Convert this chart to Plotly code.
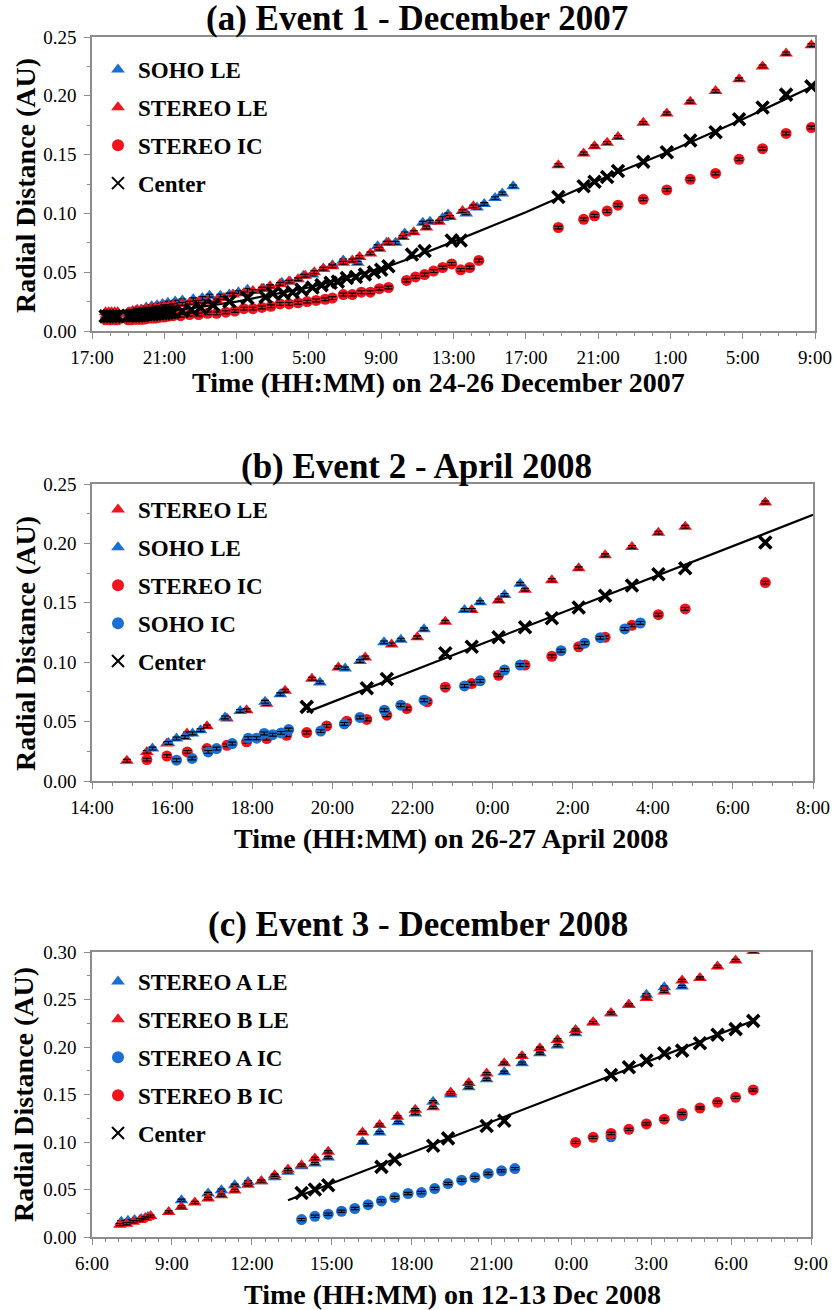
import plotly.graph_objects as go

W, H = 835, 1310
FONT = "Liberation Serif"
BLUE = "#1a6fd0"
RED = "#f2131c"

# ---------------- Event 1 (hours since 17:00, 24 Dec 2007) ----------------
a_soho_le_t = [0.8, 1.1, 1.4, 2.1, 2.4, 2.7, 3.0, 3.3, 3.6, 3.9, 4.2, 4.6, 5.0, 5.6, 6.1, 6.5, 7.1, 7.6,
               8.1, 8.6, 9.5, 10.5, 10.95, 11.7, 12.2, 12.8, 13.3, 13.9, 14.7, 15.8, 16.3, 16.8, 17.3,
               18.3, 18.7, 19.4, 19.7, 20.7, 21.3, 21.7, 22.3, 22.7, 23.3]
a_soho_le_r = [0.014, 0.014, 0.015, 0.016, 0.017, 0.018, 0.020, 0.021, 0.022, 0.023, 0.024, 0.025, 0.026,
               0.027, 0.028, 0.030, 0.030, 0.031, 0.033, 0.035, 0.036, 0.041, 0.042, 0.047, 0.048, 0.053,
               0.056, 0.060, 0.058, 0.072, 0.075, 0.075, 0.083, 0.092, 0.093, 0.096, 0.099, 0.100, 0.105,
               0.108, 0.113, 0.117, 0.123]

a_stereo_le_t = [0.75, 0.92, 1.08, 1.25, 1.42, 2.0, 2.25, 2.5, 2.75, 3.0, 3.25, 3.5, 3.75, 4.0, 4.25, 4.5,
                 5.0, 5.4, 5.9, 6.4, 6.9, 7.3, 7.8, 8.4, 8.9, 9.4, 9.85, 10.4, 10.9, 11.4, 11.8, 12.3,
                 12.8, 13.3, 13.9, 14.4, 14.8, 15.4, 15.9, 16.4, 17.2, 17.8, 18.5, 19.2, 19.8, 20.5, 21.1,
                 25.8, 27.2, 27.8, 28.5, 29.1, 30.5, 31.8, 33.1, 34.5, 35.8, 37.1, 38.4, 39.8]
a_stereo_le_r = [0.016, 0.016, 0.016, 0.016, 0.016, 0.016, 0.017, 0.018, 0.018, 0.019, 0.019, 0.020, 0.020,
                 0.021, 0.021, 0.022, 0.023, 0.024, 0.025, 0.025, 0.026, 0.028, 0.031, 0.032, 0.034, 0.036,
                 0.038, 0.040, 0.042, 0.044, 0.047, 0.050, 0.053, 0.055, 0.058, 0.060, 0.063, 0.066, 0.070,
                 0.075, 0.080, 0.084, 0.088, 0.093, 0.097, 0.102, 0.106,
                 0.141, 0.151, 0.157, 0.160, 0.165, 0.177, 0.185, 0.195, 0.204, 0.214, 0.225, 0.236, 0.243]

a_stereo_ic_t = [0.75, 0.92, 1.08, 1.25, 1.42, 2.0, 2.17, 2.33, 2.5, 2.67, 2.83, 3.0, 3.17, 3.33, 3.5, 3.67,
                 3.83, 4.0, 4.17, 4.33, 4.5, 4.9, 5.4, 5.9, 6.4, 6.9, 7.4, 7.9, 8.4, 8.9, 9.4, 9.9, 10.4,
                 10.9, 11.4, 11.9, 12.4, 12.9, 13.3, 13.9, 14.4, 14.9, 15.4, 15.9, 16.4, 17.4, 17.9, 18.4,
                 18.9, 19.4, 19.9, 20.4, 20.9, 21.4,
                 25.8, 27.2, 27.8, 28.5, 29.1, 30.5, 31.8, 33.1, 34.5, 35.8, 37.1, 38.4, 39.8]
a_stereo_ic_r = [0.0095, 0.0095, 0.0095, 0.0095, 0.0095, 0.0095, 0.0095, 0.010, 0.010, 0.010, 0.010, 0.0105,
                 0.011, 0.011, 0.011, 0.0115, 0.012, 0.012, 0.0125, 0.013, 0.013, 0.013, 0.014, 0.014, 0.015,
                 0.015, 0.016, 0.017, 0.019, 0.019, 0.020, 0.021, 0.023, 0.023, 0.024, 0.025, 0.026, 0.027,
                 0.028, 0.031, 0.031, 0.033, 0.033, 0.036, 0.037, 0.043, 0.046, 0.048, 0.051, 0.054, 0.057,
                 0.052, 0.054, 0.060,
                 0.088, 0.095, 0.098, 0.102, 0.107, 0.112, 0.120, 0.129, 0.134, 0.146, 0.155, 0.168, 0.173]

a_center_t = [0.75, 0.92, 1.08, 1.25, 1.42, 2.0, 2.17, 2.33, 2.5, 2.67, 2.83, 3.0, 3.17, 3.33, 3.5, 3.67,
              3.83, 4.0, 4.17, 4.33, 4.5, 5.0, 5.5, 6.0, 6.7, 7.6, 8.6, 9.6, 10.0, 10.6, 11.1, 11.6, 12.2,
              12.7, 13.2, 13.6, 14.1, 14.6, 15.1, 15.6, 16.0, 16.4, 17.7, 18.4, 19.9, 20.4,
              25.8, 27.2, 27.8, 28.5, 29.1, 30.5, 31.8, 33.1, 34.5, 35.8, 37.1, 38.4, 39.8]
a_center_r = [0.0125, 0.0125, 0.0125, 0.0125, 0.0125, 0.013, 0.013, 0.013, 0.013, 0.0135, 0.0135, 0.014,
              0.014, 0.014, 0.0145, 0.015, 0.015, 0.015, 0.0155, 0.016, 0.016, 0.017, 0.018, 0.020, 0.022,
              0.025, 0.028, 0.029, 0.032, 0.032, 0.033, 0.035, 0.037, 0.039, 0.041, 0.042, 0.045, 0.046,
              0.048, 0.050, 0.052, 0.055, 0.065, 0.068, 0.077, 0.077,
              0.114, 0.123, 0.127, 0.131, 0.136, 0.144, 0.152, 0.162, 0.169, 0.180, 0.190, 0.201, 0.208]

a_fit_t = [0.75, 4.0, 8.0, 12.0, 14.0, 16.4, 18.0, 20.0, 24.0, 28.0, 32.0, 36.0, 40.0]
a_fit_r = [0.012, 0.016, 0.025, 0.037, 0.045, 0.055, 0.064, 0.076, 0.101, 0.128, 0.153, 0.180, 0.209]

a_ticks = [0, 4, 8, 12, 16, 20, 24, 28, 32, 36, 40]
a_labels = ["17:00", "21:00", "1:00", "5:00", "9:00", "13:00", "17:00", "21:00", "1:00", "5:00", "9:00"]

# ---------------- Event 2 (hours since 14:00, 26 Apr 2008) ----------------
b_stereo_le_t = [0.87, 1.37, 1.87, 2.37, 2.87, 3.37, 3.86, 4.36, 4.82, 5.49, 6.15, 6.82, 7.48, 8.12, 8.82,
                 9.48, 10.15, 10.81, 11.48, 12.15, 12.81, 13.48, 14.14, 14.81, 16.81]
b_stereo_le_r = [0.017, 0.0245, 0.0315, 0.040, 0.046, 0.0526, 0.0596, 0.065, 0.076, 0.086, 0.0956, 0.104,
                 0.115, 0.121, 0.134, 0.144, 0.152, 0.161, 0.169, 0.179, 0.190, 0.197, 0.209, 0.214, 0.2345]

b_soho_le_t = [1.51, 1.91, 2.11, 2.32, 2.51, 2.71, 3.32, 3.70, 4.32, 4.70, 5.69, 6.32, 6.69, 7.29, 7.71,
               8.29, 9.30, 9.69, 10.30, 10.69]
b_soho_le_r = [0.0273, 0.032, 0.0357, 0.037, 0.040, 0.0428, 0.0535, 0.059, 0.0667, 0.073, 0.083, 0.0948,
               0.101, 0.1167, 0.119, 0.1277, 0.144, 0.1505, 0.1566, 0.166]

b_stereo_ic_t = [1.37, 1.87, 2.38, 2.87, 3.37, 3.86, 4.36, 4.86, 5.36, 5.86, 6.36, 6.86, 7.36, 7.86, 8.37,
                 8.82, 9.48, 10.15, 10.81, 11.48, 12.15, 12.81, 13.48, 14.14, 14.81, 16.81]
b_stereo_ic_r = [0.018, 0.021, 0.0245, 0.0273, 0.030, 0.033, 0.0357, 0.0385, 0.0408, 0.0464, 0.0503, 0.0518,
                 0.0554, 0.061, 0.0667, 0.079, 0.082, 0.089, 0.0976, 0.105, 0.113, 0.121, 0.131, 0.140,
                 0.1448, 0.167]

b_soho_ic_t = [2.11, 2.50, 2.90, 3.11, 3.50, 3.90, 4.11, 4.30, 4.51, 4.72, 4.91, 5.71, 6.30, 6.69, 7.30,
               7.71, 8.29, 9.30, 9.69, 10.30, 10.69, 11.71, 12.30, 12.69, 13.30, 13.69]
b_soho_ic_r = [0.0175, 0.019, 0.0245, 0.0273, 0.0315, 0.036, 0.036, 0.040, 0.039, 0.0405, 0.0433, 0.042,
               0.048, 0.0535, 0.0596, 0.0638, 0.068, 0.080, 0.0843, 0.0934, 0.0976, 0.1097, 0.116, 0.1206,
               0.128, 0.133]

b_center_t = [5.36, 6.86, 7.36, 8.82, 9.48, 10.15, 10.81, 11.48, 12.15, 12.81, 13.48, 14.14, 14.81, 16.81]
b_center_r = [0.0624, 0.078, 0.0858, 0.1075, 0.113, 0.121, 0.1294, 0.137, 0.146, 0.156, 0.1645, 0.174,
              0.179, 0.2007]

b_fit_t = [5.36, 18.0]
b_fit_r = [0.058, 0.224]

b_ticks = [0, 2, 4, 6, 8, 10, 12, 14, 16, 18]
b_labels = ["14:00", "16:00", "18:00", "20:00", "22:00", "0:00", "2:00", "4:00", "6:00", "8:00"]

# ---------------- Event 3 (hours since 6:00, 12 Dec 2008) ----------------
c_a_le_t = [1.10, 1.35, 1.60, 1.85, 2.10, 3.36, 4.36, 4.86, 5.36, 5.86, 6.36, 6.86, 7.36, 7.87, 8.37, 8.87,
            10.16, 10.80, 11.50, 12.14, 12.81, 13.47, 14.15, 14.82, 15.48, 16.15, 16.82, 17.48, 18.16,
            18.82, 19.49, 20.16, 20.82, 21.49, 22.16]
c_a_le_r = [0.016, 0.017, 0.018, 0.019, 0.021, 0.0387, 0.0458, 0.0493, 0.0545, 0.058, 0.0588, 0.063, 0.0686,
            0.0746, 0.0774, 0.0837, 0.100, 0.110, 0.1207, 0.130, 0.1424, 0.150, 0.1576, 0.166, 0.1734,
            0.183, 0.1934, 0.2015, 0.2145, 0.226, 0.2356, 0.2444, 0.255, 0.263, 0.2637]

c_b_le_t = [1.05, 1.30, 1.55, 1.80, 2.00, 2.20, 2.88, 3.36, 3.86, 4.36, 4.86, 5.36, 5.86, 6.36, 6.86, 7.36,
            7.87, 8.37, 8.87, 10.16, 10.80, 11.47, 12.14, 12.81, 13.47, 14.15, 14.82, 15.48, 16.15, 16.82,
            17.48, 18.16, 18.82, 19.49, 20.16, 20.82, 21.49, 22.16, 22.83, 23.49, 24.17, 24.83]
c_b_le_r = [0.013, 0.014, 0.016, 0.018, 0.020, 0.022, 0.0264, 0.0317, 0.0363, 0.0405, 0.044, 0.049, 0.055,
            0.0588, 0.065, 0.071, 0.0756, 0.0827, 0.0897, 0.110, 0.118, 0.1266, 0.134, 0.1365, 0.152,
            0.162, 0.172, 0.183, 0.1906, 0.1987, 0.2075, 0.218, 0.2257, 0.2356, 0.2444, 0.2515, 0.2585,
            0.270, 0.2726, 0.2848, 0.291, 0.301]

c_a_ic_t = [7.87, 8.37, 8.87, 9.37, 9.87, 10.37, 10.87, 11.37, 11.87, 12.37, 12.87, 13.37, 13.88, 14.38,
            14.88, 15.38, 15.88, 19.49, 22.16]
c_a_ic_r = [0.0183, 0.0218, 0.024, 0.0271, 0.030, 0.034, 0.038, 0.0416, 0.0458, 0.0468, 0.051, 0.0563,
            0.0598, 0.0627, 0.0669, 0.0697, 0.072, 0.1055, 0.1277]

c_b_ic_t = [18.16, 18.82, 19.49, 20.16, 20.82, 21.49, 22.16, 22.83, 23.49, 24.17, 24.83]
c_b_ic_r = [0.0996, 0.1049, 0.109, 0.1133, 0.119, 0.124, 0.130, 0.1358, 0.1418, 0.147, 0.1548]

c_center_t = [7.87, 8.37, 8.87, 10.87, 11.37, 12.81, 13.37, 14.82, 15.48, 19.49, 20.16, 20.82, 21.49,
              22.16, 22.83, 23.49, 24.17, 24.83]
c_center_r = [0.0464, 0.050, 0.0545, 0.0738, 0.0816, 0.096, 0.1038, 0.1168, 0.1224, 0.1706, 0.1787,
              0.1857, 0.1935, 0.1962, 0.204, 0.2128, 0.2188, 0.2275]

c_fit_t = [7.36, 24.83]
c_fit_r = [0.0387, 0.2275]

c_ticks = [0, 3, 6, 9, 12, 15, 18, 21, 24, 27]
c_labels = ["6:00", "9:00", "12:00", "15:00", "18:00", "21:00", "0:00", "3:00", "6:00", "9:00"]

# ---------------- figure ----------------
fig = go.Figure()

def px_x(v):
    return v / W

def px_y(v):
    return 1 - v / H

def pts(t, r, name, color, symbol, xa, ya, legend, rank, err=True):
    mk = dict(color=color, size=12 if symbol == "triangle-up" else 11, symbol=symbol)
    if symbol == "x-thin":
        mk = dict(color="black", size=12, symbol="x-thin", line=dict(color="black", width=3.6))
    fig.add_trace(go.Scatter(
        x=t, y=r, mode="markers", name=name, marker=mk, xaxis=xa, yaxis=ya, legend=legend,
        legendgroup=name + legend, legendrank=rank))
    if err:
        # small black error bars drawn on top of the markers
        fig.add_trace(go.Scatter(
            x=t, y=r, mode="markers", marker=dict(size=1, color="rgba(0,0,0,0)"),
            error_y=dict(type="constant", value=0.0012, color="black", thickness=1.1, width=4),
            xaxis=xa, yaxis=ya, showlegend=False, hoverinfo="skip", legend=legend))

def fit(t, r, xa, ya):
    fig.add_trace(go.Scatter(x=t, y=r, mode="lines", line=dict(color="black", width=2.2),
                             showlegend=False, xaxis=xa, yaxis=ya, hoverinfo="skip"))

# panel a
fit(a_fit_t, a_fit_r, "x", "y")
pts(a_soho_le_t, a_soho_le_r, "SOHO LE", BLUE, "triangle-up", "x", "y", "legend", 1)
pts(a_stereo_le_t, a_stereo_le_r, "STEREO LE", RED, "triangle-up", "x", "y", "legend", 2)
pts(a_stereo_ic_t, a_stereo_ic_r, "STEREO IC", RED, "circle", "x", "y", "legend", 3)
pts(a_center_t, a_center_r, "Center", "black", "x-thin", "x", "y", "legend", 4, err=False)

# panel b
fit(b_fit_t, b_fit_r, "x2", "y2")
pts(b_stereo_le_t, b_stereo_le_r, "STEREO LE", RED, "triangle-up", "x2", "y2", "legend2", 1)
pts(b_soho_le_t, b_soho_le_r, "SOHO LE", BLUE, "triangle-up", "x2", "y2", "legend2", 2)
pts(b_stereo_ic_t, b_stereo_ic_r, "STEREO IC", RED, "circle", "x2", "y2", "legend2", 3)
pts(b_soho_ic_t, b_soho_ic_r, "SOHO IC", BLUE, "circle", "x2", "y2", "legend2", 4)
pts(b_center_t, b_center_r, "Center", "black", "x-thin", "x2", "y2", "legend2", 5, err=False)

# panel c
fit(c_fit_t, c_fit_r, "x3", "y3")
pts(c_a_le_t, c_a_le_r, "STEREO A LE", BLUE, "triangle-up", "x3", "y3", "legend3", 1)
pts(c_b_le_t, c_b_le_r, "STEREO B LE", RED, "triangle-up", "x3", "y3", "legend3", 2)
pts(c_a_ic_t, c_a_ic_r, "STEREO A IC", BLUE, "circle", "x3", "y3", "legend3", 3)
pts(c_b_ic_t, c_b_ic_r, "STEREO B IC", RED, "circle", "x3", "y3", "legend3", 4)
pts(c_center_t, c_center_r, "Center", "black", "x-thin", "x3", "y3", "legend3", 5, err=False)

AX = "#8c8c8c"
TICKF = dict(family=FONT, size=19, color="black")

def xax(dom, rng, ticks, labels, minor, anchor):
    return dict(domain=dom, range=rng, tickmode="array", tickvals=ticks, ticktext=labels,
                ticks="outside", ticklen=6, tickcolor=AX, tickwidth=1.2, showline=True, linecolor=AX,
                linewidth=1.5, mirror=True, showgrid=False, zeroline=False, tickfont=TICKF,
                ticklabelstandoff=2, anchor=anchor, automargin=False, fixedrange=True,
                minor=dict(dtick=minor, tick0=0, ticks="outside", ticklen=3, tickcolor=AX, showgrid=False))

def yax(dom, rng, anchor):
    return dict(domain=dom, range=rng, dtick=0.05, tick0=0, tickformat=".2f",
                ticks="outside", ticklen=6, tickcolor=AX, tickwidth=1.2, showline=True, linecolor=AX,
                linewidth=1.5, mirror=True, showgrid=False, zeroline=False, tickfont=TICKF,
                ticklabelstandoff=4, anchor=anchor, automargin=False, fixedrange=True,
                minor=dict(dtick=0.025, tick0=0, ticks="outside", ticklen=3, tickcolor=AX, showgrid=False))

LEGF = dict(family=FONT, size=23, color="black", weight="bold")

def leg(x, y):
    return dict(x=px_x(x), y=px_y(y), xanchor="left", yanchor="top", bgcolor="rgba(0,0,0,0)",
                font=LEGF, tracegroupgap=5, itemsizing="constant", borderwidth=0)

fig.update_layout(
    template="none",
    width=W, height=H, margin=dict(l=0, r=0, t=0, b=0, pad=0, autoexpand=False),
    paper_bgcolor="white", plot_bgcolor="white", font=dict(family=FONT, color="black"),
    xaxis=xax([px_x(92), px_x(815)], [0, 40], a_ticks, a_labels, 1, "y"),
    yaxis=yax([px_y(331), px_y(37)], [0, 0.25], "x"),
    xaxis2=xax([px_x(92), px_x(813)], [0, 18], b_ticks, b_labels, 0.5, "y2"),
    yaxis2=yax([px_y(781), px_y(484)], [0, 0.25], "x2"),
    xaxis3=xax([px_x(92), px_x(811)], [0, 27], c_ticks, c_labels, 0.5, "y3"),
    yaxis3=yax([px_y(1237), px_y(952)], [0, 0.30], "x3"),
    legend=leg(98, 48),
    legend2=leg(98, 488),
    legend3=leg(98, 960),
    showlegend=True,
)

TITLEF = dict(family=FONT, size=35, color="black", weight="bold")
AXTF = dict(family=FONT, size=28, color="black", weight="bold")

annots = [
    ("(a) Event 1 - December 2007", 417, 19, 0, TITLEF),
    ("(b) Event 2 - April 2008", 416, 467, 0, TITLEF),
    ("(c) Event 3 - December 2008", 418, 924, 0, TITLEF),
    ("Time (HH:MM) on 24-26 December 2007", 438, 383, 0, AXTF),
    ("Time (HH:MM) on 26-27 April 2008", 451, 838, 0, AXTF),
    ("Time (HH:MM) on 12-13 Dec 2008", 452, 1294, 0, AXTF),
    ("Radial Distance (AU)", 25, 186, -90, AXTF),
    ("Radial Distance (AU)", 25, 644, -90, AXTF),
    ("Radial Distance (AU)", 23, 1095, -90, AXTF),
]
for text, x, y, ang, f in annots:
    fig.add_annotation(text=text, x=px_x(x), y=px_y(y), xref="paper", yref="paper",
                       showarrow=False, xanchor="center", yanchor="middle", textangle=ang, font=f)

fig.write_html("out.html", config={"displayModeBar": False},
               post_script="document.body.style.margin='0';")
